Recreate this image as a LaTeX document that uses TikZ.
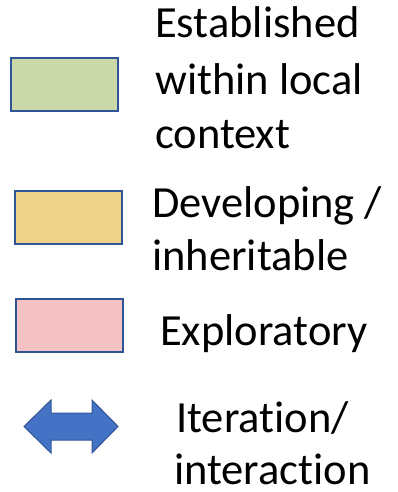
\documentclass[tikz,border=0pt]{standalone}
\usepackage{fontspec}
\setmainfont{Carlito}[Ligatures=NoCommon]
\definecolor{edgeblue}{HTML}{2F5597}
\definecolor{arrowblue}{HTML}{4472C4}
\definecolor{greenfill}{HTML}{CAD8AA}
\definecolor{yellowfill}{HTML}{EDD38A}
\definecolor{pinkfill}{HTML}{F4C2C2}
\begin{document}
\begin{tikzpicture}[x=1pt,y=-1pt,
  keybox/.style={draw=edgeblue, line width=2.2pt, minimum width=107pt, minimum height=53pt, inner sep=0pt, anchor=north west},
  label/.style={anchor=base west, inner sep=0pt, font=\fontsize{44.5}{52}\selectfont}]
\useasboundingbox (0,0) rectangle (398,492);

% colour key boxes
\node[keybox, fill=greenfill]  (established) at (10,57)  {};
\node[keybox, fill=yellowfill] (developing)  at (14,190) {};
\node[keybox, fill=pinkfill]   (exploratory) at (15,298) {};

% double-headed block arrow
\draw[edgeblue, fill=arrowblue, line width=1pt, line join=miter]
  (24,426.5) -- (51,400) -- (51,413) -- (92,413) -- (92,400) -- (118,426.5)
  -- (92,453) -- (92,440) -- (51,440) -- (51,453) -- cycle;

% descriptions
\node[label] (t1a) at (155,38)  {Established};
\node[label] (t1b) at (155,95)  {within local};
\node[label] (t1c) at (155,148) {context};
\node[label] (t2a) at (152,217) {Developing /};
\node[label] (t2b) at (152,270) {inheritable};
\node[label] (t3a) at (160,345) {Exploratory};
\node[label] (t4a) at (176,432) {Iteration/};
\node[label] (t4b) at (174,484) {interaction};
\end{tikzpicture}
\end{document}
